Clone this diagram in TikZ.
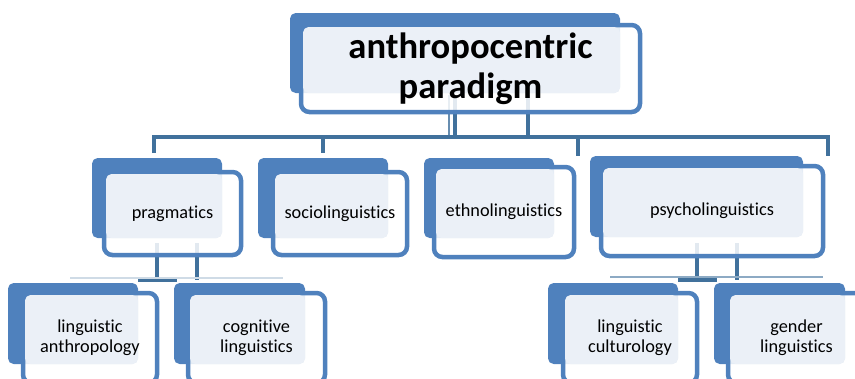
\documentclass[tikz,border=0pt]{standalone}
\usepackage{fontspec}
\setmainfont{Carlito}[Ligatures=NoCommon]
\usetikzlibrary{calc,backgrounds}
\definecolor{panelblue}{HTML}{4F81BD}
\definecolor{linkblue}{HTML}{41719C}
\definecolor{panellight}{HTML}{EBF0F7}

% back panel, front panel, shared light part, label
\newcommand{\bevelbox}[7]{%
  \coordinate (#1-bnw) at (#3);
  \coordinate (#1-bse) at (#4);
  \coordinate (#1-fnw) at (#5);
  \coordinate (#1-fse) at (#6);
  \fill[backpanel] (#1-bnw) rectangle (#1-bse);
  \draw[frontpanel] (#1-fnw) rectangle (#1-fse);
  \fill[innerpanel] ([shift={(2,2)}]#1-fnw) rectangle (#1-bse);
  \node[#2] (#1) at ($(#1-fnw)!0.5!(#1-fse)$) {#7};}

\begin{document}
\begin{tikzpicture}[x=0.025cm,y=-0.025cm,
    backpanel/.style={fill=panelblue, rounded corners=4pt},
    frontpanel/.style={draw=panelblue, line width=3.2pt, fill=white, fill opacity=0.85, draw opacity=1, rounded corners=6pt},
    innerpanel/.style={fill=panellight, rounded corners=4pt},
    boxlabel/.style={align=center, inner sep=0pt, font=\fontsize{13}{14.2}\selectfont},
    rootlabel/.style={align=center, inner sep=0pt, font=\fontsize{26}{28.5}\selectfont\bfseries},
    link/.style={draw=linkblue, line width=3.5pt},
    thinlink/.style={draw=linkblue!80, line width=1.8pt},
    faintlink/.style={draw=linkblue!25, line width=1pt}]
\useasboundingbox (0,0) rectangle (855,378);
\clip (0,0) rectangle (855,378);

% top
\bevelbox{root}{rootlabel}{290,13}{620,93}{301,25}{640,112}{anthropocentric\\paradigm}

% second row
\bevelbox{prag}{boxlabel}{92,158}{222,238}{104,172}{241,255}{pragmatics}
\bevelbox{socio}{boxlabel}{258,158}{388,238}{273,172}{407,255}{sociolinguistics}
\bevelbox{ethno}{boxlabel}{424,158}{554,238}{434,167}{574,257}{ethnolinguistics}
\bevelbox{psycho}{boxlabel}{590,156}{803,237}{601,166}{823,256}{psycholinguistics}

% third row
\bevelbox{anthro}{boxlabel}{8,283}{138,364}{23,293}{157,383}{linguistic\\anthropology}
\bevelbox{cogn}{boxlabel}{174,283}{305,364}{188,293}{325,383}{cognitive\\linguistics}
\bevelbox{cult}{boxlabel}{548,283}{678,364}{563,293}{697,383}{linguistic\\culturology}
\bevelbox{gender}{boxlabel}{714,283}{845,364}{728,293}{865,383}{gender\\linguistics}

\begin{pgfonlayer}{background}
  \coordinate (bar-w) at (154,137);
  \coordinate (bar-e) at (828,137);
  \foreach \s/\x in {ra/449,rb/455,rc/528}
    \coordinate (\s) at (\x,95);
  \draw[thinlink] (ra) -- (ra |- bar-w);
  \draw[link] (rb) -- (rb |- bar-w);
  \draw[link] (rc) -- (rc |- bar-w);
  \draw[link] ($(bar-w)+(0,16)$) -- (bar-w) -- (bar-e) -- ++(0,19);
  \coordinate (drop-s) at (323,137);
  \coordinate (drop-t) at (578,137);
  \draw[link] (drop-s) -- ++(0,16);
  \draw[link] (drop-t) -- ++(0,19);

  % pragmatics -> children
  \coordinate (pa) at (157,243);
  \coordinate (pb) at (197,243);
  \coordinate (pj) at (138,280);
  \draw[link] (pa) -- (pa |- pj);
  \draw[link] (pb) -- (pb |- pj);
  \draw[link] (pj) -- ++(39,0);
  \draw[faintlink] (70,278) -- (283,278);

  % psycholinguistics -> children
  \coordinate (qa) at (697,243);
  \coordinate (qb) at (737,243);
  \coordinate (qj) at (678,280);
  \draw[link] (qa) -- (qa |- qj);
  \draw[link] (qb) -- (qb |- qj);
  \draw[link] (qj) -- ++(39,0);
  \draw[faintlink, draw=linkblue!60] (610,277) -- (823,277);
\end{pgfonlayer}
\end{tikzpicture}
\end{document}
